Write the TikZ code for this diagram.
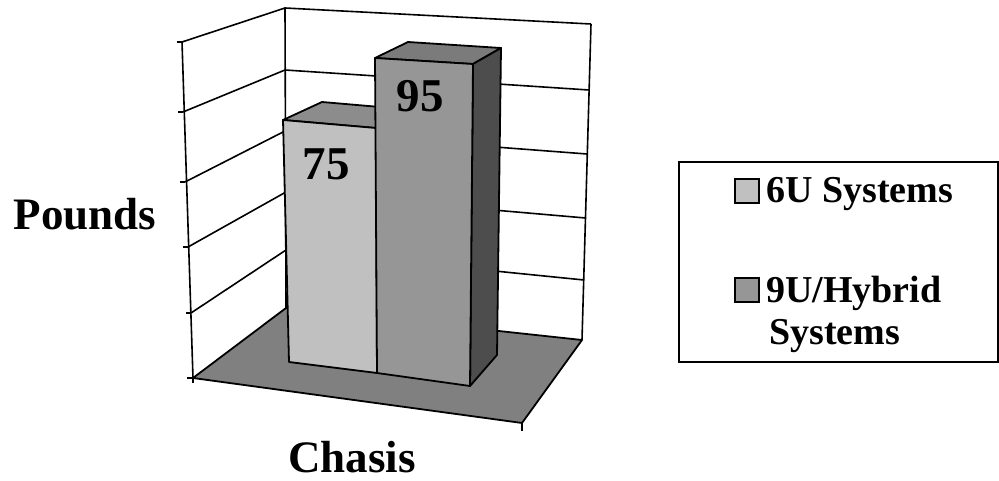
\documentclass[tikz,border=0pt]{standalone}
\usepackage{fontspec}
\setmainfont{Liberation Serif}
\definecolor{floorc}{HTML}{808080}
\definecolor{barA}{HTML}{C0C0C0}
\definecolor{barAtop}{HTML}{8C8C8C}
\definecolor{barB}{HTML}{969696}
\definecolor{barBtop}{HTML}{7B7B7B}
\definecolor{barBside}{HTML}{4D4D4D}
\tikzset{
  edge/.style={draw=black, line width=1.8pt, line join=round},
  grid/.style={draw=black, line width=1.6pt},
  bigtxt/.style={font=\bfseries\fontsize{45}{50}\selectfont, inner sep=0pt, anchor=base},
  valtxt/.style={font=\bfseries\fontsize{47}{50}\selectfont, inner sep=0pt, anchor=base},
  legtxt/.style={font=\bfseries\fontsize{38}{42}\selectfont, inner sep=0pt, anchor=base west},
  legbox/.style={draw=black, line width=1.6pt}
}
\begin{document}
\begin{tikzpicture}[x=1pt,y=-1pt]
\useasboundingbox (0,0) rectangle (999,481);
% left wall axis points (front-left edge)
\coordinate (L0) at (182,42);
\coordinate (L1) at (183,112);
\coordinate (L2) at (185,182);
\coordinate (L3) at (188,247);
\coordinate (L4) at (191,313);
\coordinate (L5) at (193,378);
% back-left edge points
\coordinate (B0) at (285,8);
\coordinate (B1) at (285,70);
\coordinate (B2) at (285,131);
\coordinate (B3) at (286,192);
\coordinate (B4) at (286,250);
\coordinate (B5) at (286,308);
% back-right edge points
\coordinate (R0) at (591,24);
\coordinate (R1) at (589,90);
\coordinate (R2) at (587,154);
\coordinate (R3) at (585.5,218);
\coordinate (R4) at (584,280);
\coordinate (R5) at (582,340);
% floor front-right
\coordinate (F) at (522,423);
% floor
\fill[floorc] (L5) -- (B5) -- (R5) -- (F) -- cycle;
% gridlines
\foreach \i in {0,...,4} {
  \draw[grid] (L\i) -- (B\i) -- (R\i);
  \draw[grid] (L\i) -- ++(-5,0);
}
\draw[grid] (L5) -- ++(-6,0);
\draw[grid] (L5) -- ++(0,5);
\draw[edge] (L5) -- (B5) -- (R5) -- (F) -- cycle;
\draw[grid] (F) -- ++(0,8);
\draw[grid] (L0) -- (L5);
\draw[grid] (B0) -- (B5);
\draw[grid] (R0) -- (R5);
% bar 75
\filldraw[edge, fill=barAtop] (283,120) -- (376,128) -- (415,110) -- (322,102) -- cycle;
\filldraw[edge, fill=barA] (283,120) -- (376,128) -- (377,373) -- (289,362) -- cycle;
% bar 95
\filldraw[edge, fill=barBtop] (375,58) -- (473,64) -- (501,48) -- (408,42) -- cycle;
\filldraw[edge, fill=barBside] (473,64) -- (501,48) -- (497,355) -- (470,386) -- cycle;
\filldraw[edge, fill=barB] (375,58) -- (473,64) -- (470,386) -- (377,373) -- cycle;
% value labels
\node[valtxt] (v75) at (326,180) {75};
\node[valtxt] (v95) at (420,112) {95};
% axis titles
\node[bigtxt] (ytitle) at (85,230) {Pounds};
\node[bigtxt] (xtitle) at (352,472) {Chasis};
% legend
\draw[legbox] (679,162) rectangle (998,362);
\filldraw[draw=black, line width=1.3pt, fill=barA] (735,179) rectangle (759,203);
\filldraw[draw=black, line width=1.3pt, fill=barB] (735,278) rectangle (759,302);
\node[legtxt] (l1) at (766,203) {6U Systems};
\node[legtxt] (l2) at (766,302) {9U/Hybrid};
\node[legtxt] (l3) at (769,344) {Systems};
\end{tikzpicture}
\end{document}
